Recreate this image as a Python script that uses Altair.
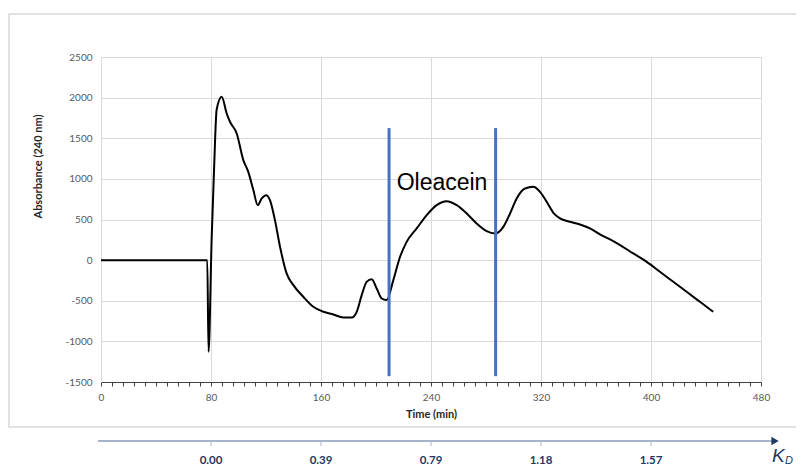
import altair as alt
import pandas as pd

# ---- data ----
times = [0, 40, 77.3, 78.2, 80.5, 82.2, 84.1, 87.8, 91.4, 93.8, 98.7, 103.5, 107.1,
         110.8, 114, 116.9, 120, 122.9, 126.5, 130.2, 135, 139.9, 147.1, 154.4,
         161.7, 169, 176.2, 182.3, 186, 189.6, 193.2, 196.9, 200.5, 204.1, 207.8,
         212.6, 217.5, 222.3, 229.6, 236.9, 244.1, 251.4, 258.7, 266, 273.2, 280.5,
         286.5, 292.6, 297.5, 302.3, 308.4, 314.4, 319.3, 324.1, 329, 333.8, 341.1,
         348.4, 355.6, 362.9, 370.2, 377.5, 387.1, 396.9, 406.5, 416.2, 425.9,
         435.6, 445.3]
absorbance = [0, 0, 0, -1128, 277, 1108, 1850, 2010, 1805, 1703, 1559, 1231, 1087,
              862, 677, 759, 800, 738, 492, 164, -164, -308, -451, -574,
              -636, -669, -706, -706, -636, -431, -267, -234, -349, -472, -492,
              -246, 41, 225, 390, 554, 677, 726, 677, 574, 451, 357,
              328, 410, 574, 759, 882, 903, 841, 718, 583, 513, 472,
              439, 390, 316, 255, 185, 82, -21, -144, -267, -390,
              -513, -636]

cut_times = [209.5, 287.0]
cut_top = [1625, 1625]
cut_bottom = [-1428, -1428]

label_text = ["Oleacein"]
label_time = [215]
label_value = [950]

kd_times = [80, 160, 240, 320, 400]
kd_labels = ["0.00", "0.39", "0.79", "1.18", "1.57"]

y_ticks = [-1500, -1000, -500, 0, 500, 1000, 1500, 2000, 2500]
x_ticks = list(range(0, 481, 8))

# ---- tables ----
df_line = pd.DataFrame({"t": times, "a": absorbance})
df_cut = pd.DataFrame({"t": cut_times, "top": cut_top, "bottom": cut_bottom})
df_lab = pd.DataFrame({"t": label_time, "a": label_value, "txt": label_text})
df_kd = pd.DataFrame({"t": kd_times, "lab": kd_labels})
df_one = pd.DataFrame({"k": [0]})

W, H = 660, 325
FONT = "Lato"
NAVY = "#1F3864"
ARROW = "#A7B5CC"

x_scale = alt.Scale(domain=[0, 480], nice=False, zero=False)
y_scale = alt.Scale(domain=[-1500, 2500], nice=False, zero=False)

x_axis = alt.Axis(
    values=x_ticks,
    tickCount=200,
    labelExpr="datum.value % 80 === 0 ? datum.label : ''",
    title="Time (min)",
    grid=True,
    gridColor="#D9D9D9",
    gridOpacity={"condition": {"test": "datum.value % 80 === 0", "value": 1}, "value": 0},
    domainColor="#404040",
    tickColor="#404040",
    tickSize=4,
    labelColor="#595959",
    labelFont=FONT,
    labelFontSize=10,
    labelPadding=6,
    labelFlush=False,
    labelOverlap=False,
    titleFont=FONT,
    titleFontSize=11,
    titleFontWeight="bold",
    titleColor="#262626",
    titlePadding=6,
)

y_axis = alt.Axis(
    values=y_ticks,
    tickCount=50,
    labelExpr="'' + datum.value",
    title="Absorbance (240 nm)",
    grid=True,
    gridColor="#D9D9D9",
    domainColor="#D9D9D9",
    ticks=False,
    tickSize=0,
    labelColor="#595959",
    labelFont=FONT,
    labelFontSize=10,
    labelPadding=9,
    titleFont=FONT,
    titleFontSize=11,
    titleFontWeight="bold",
    titleColor="#262626",
    titleX=-58,
    titleY=109,
)

border = alt.Chart(df_one).mark_rect(fill="transparent", stroke="#D9D9D9", strokeWidth=1.5).encode(
    x=alt.value(-92), x2=alt.value(705), y=alt.value(-43), y2=alt.value(370)
)

line = alt.Chart(df_line).mark_line(color="black", strokeWidth=2, interpolate="monotone").encode(
    x=alt.X("t:Q", scale=x_scale, axis=x_axis),
    y=alt.Y("a:Q", scale=y_scale, axis=y_axis),
)

cuts = alt.Chart(df_cut).mark_rule(color="#4472C4", strokeWidth=3).encode(
    x="t:Q", y="top:Q", y2="bottom:Q"
)

lab = alt.Chart(df_lab).mark_text(
    align="left", baseline="middle", font="Liberation Sans", fontSize=23, color="black"
).encode(x="t:Q", y="a:Q", text="txt:N")

kd_line = alt.Chart(df_one).mark_rule(color=ARROW, strokeWidth=2).encode(
    x=alt.value(-3), x2=alt.value(672), y=alt.value(384)
)
kd_head = alt.Chart(df_one).mark_point(shape="triangle-right", filled=True, color=NAVY, size=70, opacity=1).encode(
    x=alt.value(674), y=alt.value(384)
)
kd_ticks = alt.Chart(df_kd).mark_rule(color=ARROW, strokeWidth=1).encode(
    x="t:Q", y=alt.value(384), y2=alt.value(389)
)
kd_text = alt.Chart(df_kd).mark_text(
    font=FONT, fontSize=11.5, fontWeight="bold", color=NAVY, baseline="middle"
).encode(x="t:Q", y=alt.value(404), text="lab:N")
kd_k = alt.Chart(df_one).mark_text(
    text="K", font="Liberation Sans", fontSize=19, fontStyle="italic", color=NAVY,
    align="left", baseline="middle"
).encode(x=alt.value(671), y=alt.value(399))
kd_d = alt.Chart(df_one).mark_text(
    text="D", font="Liberation Sans", fontSize=11, fontStyle="italic", color=NAVY,
    align="left", baseline="middle"
).encode(x=alt.value(684), y=alt.value(404))

chart = alt.layer(
    border, line, cuts, lab, kd_line, kd_head, kd_ticks, kd_text, kd_k, kd_d
).properties(
    width=W, height=H,
    autosize="none",
    padding={"left": 93, "top": 49, "right": 35, "bottom": 85},
    background="white",
).configure_view(strokeWidth=0)

chart.save("out.html", embed_options={"renderer": "svg", "actions": False})
